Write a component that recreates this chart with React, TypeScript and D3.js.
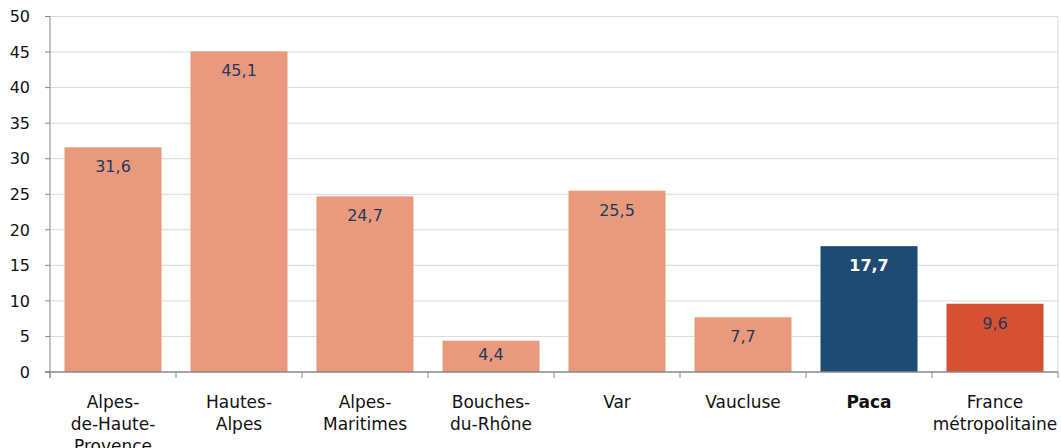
import React from "react";
import * as d3 from "d3";

const categories = [
  "Alpes-de-Haute-Provence",
  "Hautes-Alpes",
  "Alpes-Maritimes",
  "Bouches-du-Rhône",
  "Var",
  "Vaucluse",
  "Paca",
  "France métropolitaine",
];
const categoryLines = [
  ["Alpes-", "de-Haute-", "Provence"],
  ["Hautes-", "Alpes"],
  ["Alpes-", "Maritimes"],
  ["Bouches-", "du-Rhône"],
  ["Var"],
  ["Vaucluse"],
  ["Paca"],
  ["France", "métropolitaine"],
];
const values = [31.6, 45.1, 24.7, 4.4, 25.5, 7.7, 17.7, 9.6];
const yTicks = [0, 5, 10, 15, 20, 25, 30, 35, 40, 45, 50];

const W = 1061;
const H = 448;
const left = 50;
const right = 1058;
const top = 16.5;
const bottom = 372;
const FONT = "'DejaVu Sans', Verdana, sans-serif";

function barColor(c: string) {
  if (c === "Paca") return "#1F4A72";
  if (c === "France métropolitaine") return "#D85032";
  return "#E99A7C";
}

export default function App() {
  const x = d3
    .scaleBand<string>()
    .domain(categories)
    .range([left, right])
    .paddingInner(0.23)
    .paddingOuter(0.115);
  const y = d3.scaleLinear().domain([0, 50]).range([bottom, top]);
  const step = x.step();

  return (
    <svg
      width={W}
      height={H}
      style={{ position: "absolute", left: 0, top: 0, display: "block" }}
      fontFamily={FONT}
    >
      <rect width={W} height={H} fill="#fff" />
      {yTicks.map((t) => (
        <g key={t}>
          {t > 0 && (
            <line x1={left} x2={right} y1={y(t)} y2={y(t)} stroke="#d9d9d9" strokeWidth={1} />
          )}
          <line x1={left - 5} x2={left} y1={y(t)} y2={y(t)} stroke="#888" strokeWidth={1} />
          <text x={30} y={y(t)} dy="0.36em" textAnchor="end" fontSize={16} fill="#111">
            {t}
          </text>
        </g>
      ))}
      <line x1={right} x2={right} y1={top} y2={bottom} stroke="#d9d9d9" strokeWidth={1} />
      {categories.map((c, i) => {
        const v = values[i];
        const bx = x(c)!;
        const bw = x.bandwidth();
        const by = y(v);
        const isPaca = c === "Paca";
        const labelY = Math.min(by + 25, bottom - 12);
        return (
          <g key={c}>
            <rect x={bx} y={by} width={bw} height={bottom - by} fill={barColor(c)} />
            <text
              x={bx + bw / 2}
              y={labelY}
              textAnchor="middle"
              fontSize={16}
              fontWeight={isPaca ? "bold" : "normal"}
              fill={isPaca ? "#fff" : "#1F3864"}
            >
              {String(v).replace(".", ",")}
            </text>
            {categoryLines[i].map((ln, j) => (
              <text
                key={j}
                x={bx + bw / 2}
                y={408 + j * 22}
                textAnchor="middle"
                fontSize={17}
                fontWeight={isPaca ? "bold" : "normal"}
                fill="#111"
              >
                {ln}
              </text>
            ))}
          </g>
        );
      })}
      <line x1={left} x2={left} y1={top} y2={bottom + 6} stroke="#888" strokeWidth={1} />
      <line x1={left - 5} x2={right} y1={bottom} y2={bottom} stroke="#888" strokeWidth={1.5} />
      {d3.range(categories.length + 1).map((i) => (
        <line
          key={i}
          x1={left + i * step}
          x2={left + i * step}
          y1={bottom}
          y2={bottom + 6}
          stroke="#888"
          strokeWidth={1}
        />
      ))}
    </svg>
  );
}
